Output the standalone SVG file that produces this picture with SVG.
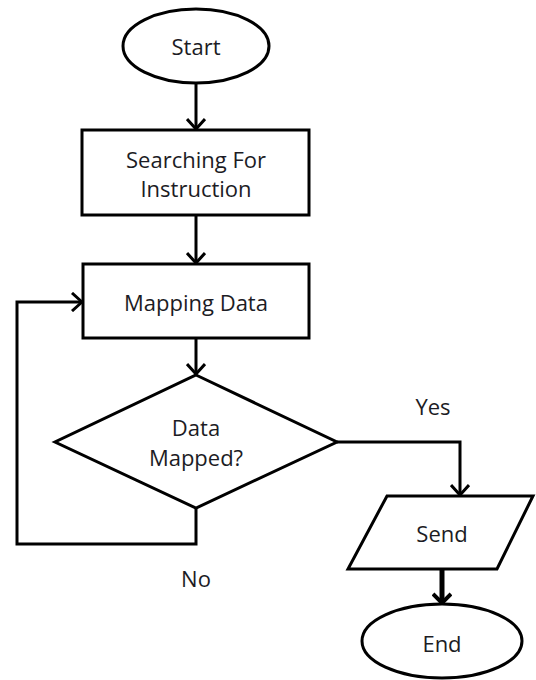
<svg xmlns="http://www.w3.org/2000/svg" width="536" height="680" viewBox="0 0 536 680">
<defs>
<style>
.shape{fill:#fff;stroke:#000;stroke-width:3}
.conn{fill:none;stroke:#000;stroke-width:3}
.thick{fill:none;stroke:#000;stroke-width:5}
text{font-family:"Open Sans","Noto Sans",sans-serif;font-size:22px;fill:#1c1c24;text-anchor:middle;dominant-baseline:central}
</style>
<marker id="arr" viewBox="0 0 20 20" refX="19" refY="10" markerWidth="20" markerHeight="20" markerUnits="userSpaceOnUse" orient="auto">
<path d="M9,1 L19,10 L9,19" fill="none" stroke="#000" stroke-width="3"/>
</marker>
<marker id="arrb" viewBox="0 0 20 20" refX="19" refY="10" markerWidth="20" markerHeight="20" markerUnits="userSpaceOnUse" orient="auto">
<path d="M9,1 L18,10 L9,19" fill="none" stroke="#000" stroke-width="4"/>
</marker>
</defs>
<rect width="536" height="680" fill="#fff"/>
<g id="connectors">
<line class="conn" x1="196" y1="83" x2="196" y2="129" marker-end="url(#arr)"/>
<line class="conn" x1="196" y1="215" x2="196" y2="263" marker-end="url(#arr)"/>
<line class="conn" x1="196" y1="338" x2="196" y2="374" marker-end="url(#arr)"/>
<polyline class="conn" points="196,508 196,544 17,544 17,302 82,302" marker-end="url(#arr)"/>
<polyline class="conn" points="337,442 460,442 460,495" marker-end="url(#arr)"/>
<line class="thick" x1="442" y1="569" x2="442" y2="604" marker-end="url(#arrb)"/>
</g>
<g id="start">
<ellipse class="shape" cx="196" cy="46" rx="73" ry="37"/>
<text x="196" y="46">Start</text>
</g>
<g id="search">
<rect class="shape" x="82" y="130" width="227" height="85"/>
<text x="196" y="159">Searching For</text>
<text x="196" y="188">Instruction</text>
</g>
<g id="mapping">
<rect class="shape" x="83" y="264" width="226" height="74"/>
<text x="196" y="302">Mapping Data</text>
</g>
<g id="decision">
<polygon class="shape" points="196,375 337,442 196,508 55,442"/>
<text x="196" y="427">Data</text>
<text x="196" y="457">Mapped?</text>
</g>
<g id="send">
<polygon class="shape" points="387,496 533,496 497,569 348,569"/>
<text x="442" y="533">Send</text>
</g>
<g id="end">
<ellipse class="shape" cx="442" cy="641" rx="80" ry="37"/>
<text x="442" y="643">End</text>
</g>
<g id="labels">
<text x="433" y="406">Yes</text>
<text x="196" y="578">No</text>
</g>
</svg>
